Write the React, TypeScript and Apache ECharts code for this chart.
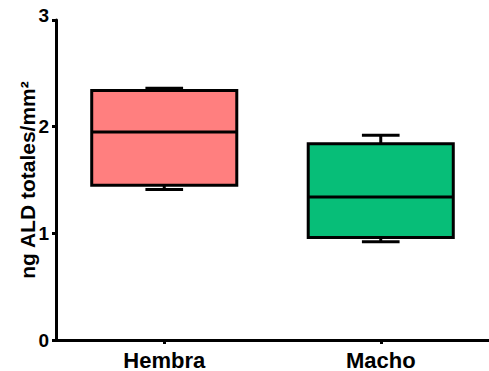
import React, { useEffect, useRef } from "react";
import * as echarts from "echarts";

const categories = ["Hembra", "Macho"];
const minValues = [1.41, 0.92];
const q1Values = [1.45, 0.96];
const medianValues = [1.95, 1.34];
const q3Values = [2.34, 1.84];
const maxValues = [2.36, 1.92];
const boxColors = ["#FF7F7F", "#07BE78"];
const yTicks = [0, 1, 2, 3];

export default function App() {
  const ref = useRef<HTMLDivElement>(null);
  useEffect(() => {
    if (!ref.current) return;
    const chart = echarts.init(ref.current, null, { renderer: "svg" });
    const data = categories.map((_, i) => [
      i,
      minValues[i],
      q1Values[i],
      medianValues[i],
      q3Values[i],
      maxValues[i],
    ]);
    const font = "Liberation Sans, Arial, Helvetica, sans-serif";
    const topTick = yTicks[yTicks.length - 1];
    chart.setOption({
      animation: false,
      grid: { left: 56, top: 20, bottom: 31, right: -5, containLabel: false },
      xAxis: {
        type: "category",
        data: categories,
        boundaryGap: true,
        axisLine: { show: true, lineStyle: { color: "#000", width: 3 } },
        axisTick: { show: true, alignWithLabel: true, length: 4, lineStyle: { color: "#000", width: 3 } },
        axisLabel: { color: "#000", fontWeight: "bold", fontSize: 22, fontFamily: font, margin: 9 },
        splitLine: { show: false },
      },
      yAxis: {
        type: "value",
        min: yTicks[0],
        max: topTick,
        interval: 1,
        name: "ng ALD totales/mm²",
        nameLocation: "middle",
        nameRotate: 90,
        nameGap: 18,
        nameMoveOverlap: false,
        nameTextStyle: { color: "#000", fontWeight: "bold", fontSize: 21, fontFamily: font },
        axisLine: { show: true, lineStyle: { color: "#000", width: 3 } },
        axisTick: { show: true, length: 4, lineStyle: { color: "#000", width: 3 } },
        axisLabel: {
          color: "#000",
          fontWeight: "bold",
          fontSize: 19,
          fontFamily: font,
          margin: 7,
          formatter: (v: number) => (v === topTick ? `{top|${v}}` : `${v}`),
          rich: {
            top: { fontWeight: "bold", fontSize: 19, fontFamily: font, color: "#000", padding: [0, 0, 10, 0] },
          },
        },
        splitLine: { show: false },
      },
      series: [
        {
          type: "custom",
          data,
          encode: { x: 0, y: [1, 2, 3, 4, 5] },
          renderItem: (params: any, api: any) => {
            const idx = api.value(0);
            const band = api.size([1, 0])[0];
            const boxW = band * 0.67;
            const capW = band * 0.174;
            const pMin = api.coord([idx, api.value(1)]);
            const pQ1 = api.coord([idx, api.value(2)]);
            const pMed = api.coord([idx, api.value(3)]);
            const pQ3 = api.coord([idx, api.value(4)]);
            const pMax = api.coord([idx, api.value(5)]);
            const cx = pMed[0];
            const lineStyle = { stroke: "#000", lineWidth: 3, fill: "none" };
            return {
              type: "group",
              children: [
                { type: "line", shape: { x1: cx, y1: pMax[1], x2: cx, y2: pQ3[1] }, style: lineStyle },
                { type: "line", shape: { x1: cx - capW / 2, y1: pMax[1], x2: cx + capW / 2, y2: pMax[1] }, style: lineStyle },
                { type: "line", shape: { x1: cx, y1: pMin[1], x2: cx, y2: pQ1[1] }, style: lineStyle },
                { type: "line", shape: { x1: cx - capW / 2, y1: pMin[1], x2: cx + capW / 2, y2: pMin[1] }, style: lineStyle },
                {
                  type: "rect",
                  shape: { x: cx - boxW / 2, y: pQ3[1], width: boxW, height: pQ1[1] - pQ3[1] },
                  style: { fill: boxColors[idx], stroke: "#000", lineWidth: 3 },
                },
                { type: "line", shape: { x1: cx - boxW / 2, y1: pMed[1], x2: cx + boxW / 2, y2: pMed[1] }, style: lineStyle },
              ],
            };
          },
        },
      ],
    });
    return () => chart.dispose();
  }, []);
  return <div ref={ref} style={{ width: 489, height: 371, position: "absolute", left: 0, top: 0 }} />;
}
